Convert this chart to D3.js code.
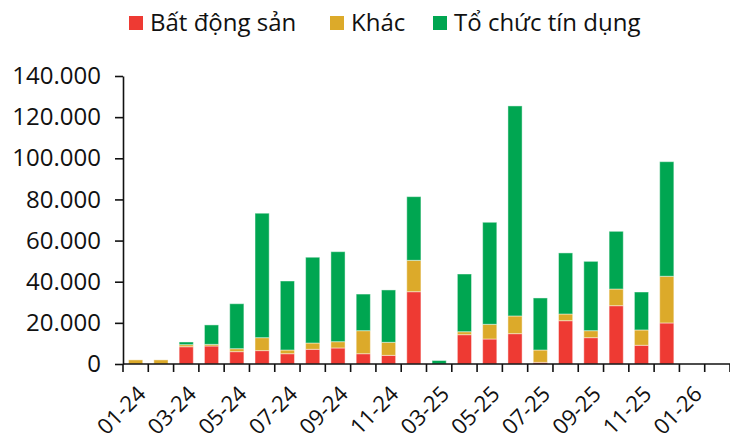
<!DOCTYPE html>
<html>
<head>
<meta charset="utf-8">
<script src="https://cdn.jsdelivr.net/npm/d3@7"></script>
<style>
  body { margin: 0; background: #fff; }
  text { font-family: "Open Sans", "Noto Sans", sans-serif; fill: #111; }
</style>
</head>
<body>
<div id="chart"></div>
<script>
// months shown on the axis (Jan and Feb 2025 are not in the series)
const months = [
  "01-24", "02-24", "03-24", "04-24", "05-24", "06-24", "07-24", "08-24",
  "09-24", "10-24", "11-24", "12-24", "03-25", "04-25", "05-25", "06-25",
  "07-25", "08-25", "09-25", "10-25", "11-25", "12-25", "01-26", "02-26"
];
const tickLabels = ["01-24", "03-24", "05-24", "07-24", "09-24", "11-24",
  "03-25", "05-25", "07-25", "09-25", "11-25", "01-26"];

// series values
const batDongSan = [0, 0, 8400, 8750, 6000, 6500, 5000, 7150, 7800, 5000, 4200, 35150,
  0, 14250, 12150, 14750, 800, 21050, 12800, 28350, 9100, 19950, 0, 0];
const khac = [2000, 2000, 1000, 800, 1450, 6300, 1800, 3050, 3050, 11200, 6350, 15250,
  0, 1450, 7150, 8600, 6000, 3250, 3400, 8100, 7450, 22700, 0, 0];
const toChucTinDung = [0, 0, 1300, 9450, 21850, 60500, 33550, 41700, 43750, 17800, 25450, 30950,
  1700, 28050, 49600, 102100, 25300, 29700, 33700, 28050, 18450, 55700, 0, 0];

const seriesNames = ["Bất động sản", "Khác", "Tổ chức tín dụng"];
const colors = ["#ee3a33", "#dcaa2a", "#00a651"];
const yTicks = [0, 20000, 40000, 60000, 80000, 100000, 120000, 140000];

const width = 730, height = 442;
const plotLeft = 123, plotRight = 730, plotTop = 76, plotBottom = 364;

const svg = d3.select("#chart").append("svg")
  .attr("width", width)
  .attr("height", height);

// build rows for the stack
const rows = months.map((m, i) => ({
  month: m,
  "Bất động sản": batDongSan[i],
  "Khác": khac[i],
  "Tổ chức tín dụng": toChucTinDung[i]
}));
const stacked = d3.stack().keys(seriesNames)(rows);

const x = d3.scaleBand()
  .domain(months)
  .range([plotLeft, plotRight])
  .paddingInner(0.44)
  .paddingOuter(0.22);

const y = d3.scaleLinear()
  .domain([0, 140000])
  .range([plotBottom, plotTop]);

const color = d3.scaleOrdinal().domain(seriesNames).range(colors);

// bars
svg.append("g")
  .selectAll("g")
  .data(stacked)
  .join("g")
  .attr("fill", (d) => color(d.key))
  .selectAll("rect")
  .data((d) => d.filter((p) => p[1] - p[0] > 0))
  .join("rect")
  .attr("x", (d) => x(d.data.month))
  .attr("y", (d) => y(d[1]))
  .attr("width", x.bandwidth())
  .attr("height", (d) => y(d[0]) - y(d[1]))
  .attr("stroke", "rgba(255,255,255,0.45)")
  .attr("stroke-width", 1);

// y axis
const yAxis = svg.append("g")
  .attr("transform", `translate(${plotLeft},0)`)
  .call(d3.axisLeft(y).tickValues(yTicks).tickSize(8).tickSizeOuter(0)
    .tickFormat((d) => d3.format(",")(d).replace(/,/g, ".")));
yAxis.select(".domain").attr("stroke", "#111").attr("stroke-width", 1.6);
yAxis.selectAll(".tick line").attr("stroke", "#111").attr("stroke-width", 1.6);
yAxis.selectAll(".tick text")
  .attr("x", -22)
  .style("font-size", "24px")
  .style("fill", "#111");

// x axis: line, ticks at band edges, rotated labels at band centres
const xAxis = svg.append("g");
xAxis.append("line")
  .attr("x1", plotLeft).attr("x2", plotRight)
  .attr("y1", plotBottom).attr("y2", plotBottom)
  .attr("stroke", "#111").attr("stroke-width", 1.6);
xAxis.selectAll("line.tick")
  .data(d3.range(months.length + 1))
  .join("line")
  .attr("class", "tick")
  .attr("x1", (i) => plotLeft + i * x.step())
  .attr("x2", (i) => plotLeft + i * x.step())
  .attr("y1", plotBottom)
  .attr("y2", plotBottom + 8)
  .attr("stroke", "#111").attr("stroke-width", 1.6);
xAxis.selectAll("text")
  .data(tickLabels)
  .join("text")
  .attr("transform", (d) =>
    `translate(${x(d) + x.bandwidth() / 2 + 6},${plotBottom + 26}) rotate(-45)`)
  .attr("text-anchor", "end")
  .attr("dy", "0.35em")
  .style("font-size", "22px")
  .text((d) => d);

// legend
const legendX = [129, 330, 433];
const legend = svg.append("g")
  .selectAll("g")
  .data(seriesNames)
  .join("g")
  .attr("transform", (d, i) => `translate(${legendX[i]},16)`);
legend.append("rect")
  .attr("width", 14).attr("height", 14)
  .attr("fill", (d) => color(d));
legend.append("text")
  .attr("x", 21).attr("y", 14.7)
  .style("font-size", "24px")
  .text((d) => d);
</script>
</body>
</html>
